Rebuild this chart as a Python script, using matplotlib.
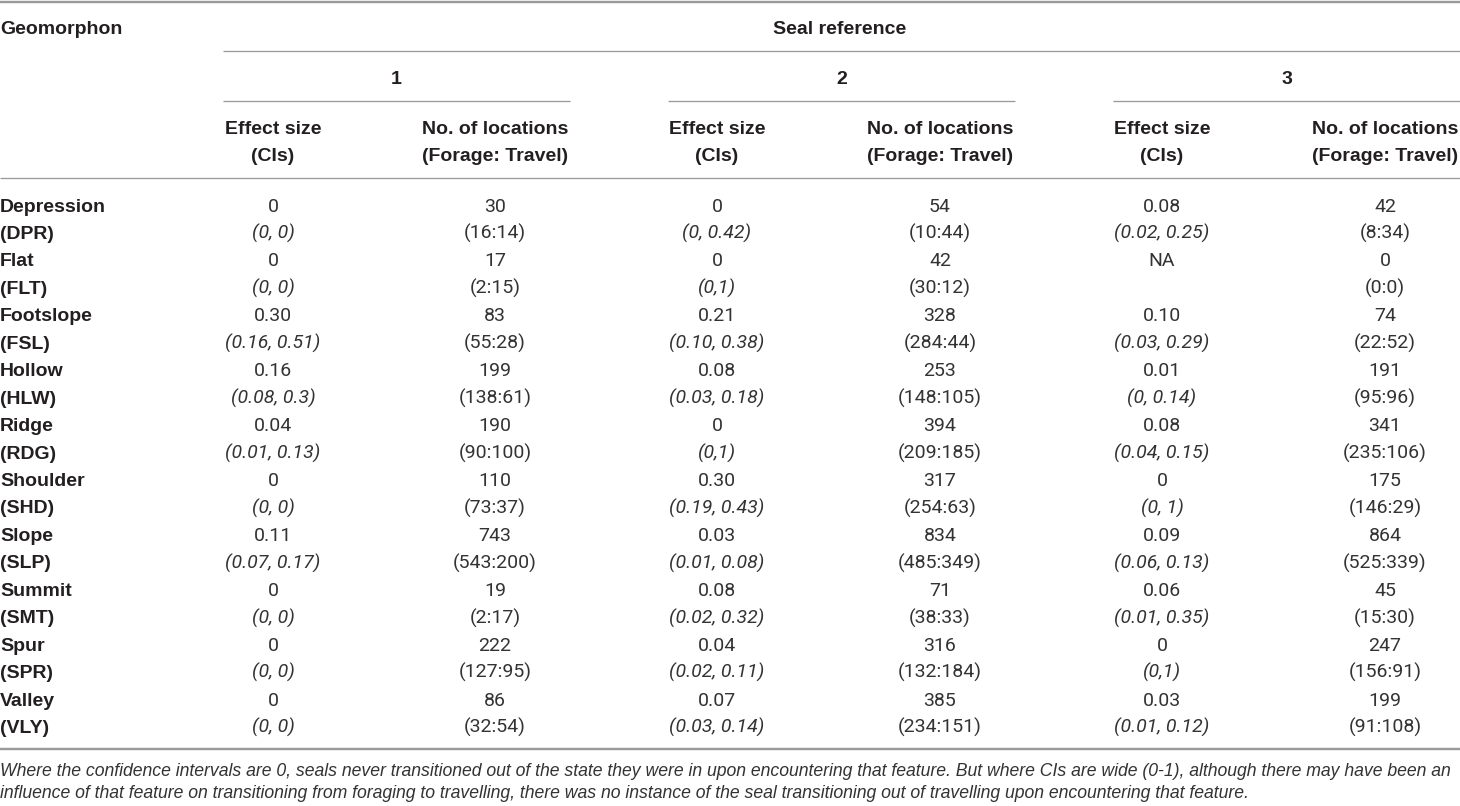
import matplotlib
matplotlib.use("Agg")
import matplotlib.pyplot as plt
from matplotlib import font_manager as fm

# ---------------- data ----------------
geomorphons = ["Depression", "Flat", "Footslope", "Hollow", "Ridge",
               "Shoulder", "Slope", "Summit", "Spur", "Valley"]
codes = ["DPR", "FLT", "FSL", "HLW", "RDG", "SHD", "SLP", "SMT", "SPR", "VLY"]
seal_ids = ["1", "2", "3"]

effect_1 = ["0", "0", "0.30", "0.16", "0.04", "0", "0.11", "0", "0", "0"]
ci_1 = ["(0, 0)", "(0, 0)", "(0.16, 0.51)", "(0.08, 0.3)", "(0.01, 0.13)",
        "(0, 0)", "(0.07, 0.17)", "(0, 0)", "(0, 0)", "(0, 0)"]
locations_1 = [30, 17, 83, 199, 190, 110, 743, 19, 222, 86]
forage_1 = [16, 2, 55, 138, 90, 73, 543, 2, 127, 32]
travel_1 = [14, 15, 28, 61, 100, 37, 200, 17, 95, 54]

effect_2 = ["0", "0", "0.21", "0.08", "0", "0.30", "0.03", "0.08", "0.04", "0.07"]
ci_2 = ["(0, 0.42)", "(0,1)", "(0.10, 0.38)", "(0.03, 0.18)", "(0,1)",
        "(0.19, 0.43)", "(0.01, 0.08)", "(0.02, 0.32)", "(0.02, 0.11)", "(0.03, 0.14)"]
locations_2 = [54, 42, 328, 253, 394, 317, 834, 71, 316, 385]
forage_2 = [10, 30, 284, 148, 209, 254, 485, 38, 132, 234]
travel_2 = [44, 12, 44, 105, 185, 63, 349, 33, 184, 151]

effect_3 = ["0.08", "NA", "0.10", "0.01", "0.08", "0", "0.09", "0.06", "0", "0.03"]
ci_3 = ["(0.02, 0.25)", "", "(0.03, 0.29)", "(0, 0.14)", "(0.04, 0.15)",
        "(0, 1)", "(0.06, 0.13)", "(0.01, 0.35)", "(0,1)", "(0.01, 0.12)"]
locations_3 = [42, 0, 74, 191, 341, 175, 864, 45, 247, 199]
forage_3 = [8, 0, 22, 95, 235, 146, 525, 15, 156, 91]
travel_3 = [34, 0, 52, 96, 106, 29, 339, 30, 91, 108]

footnote_lines = [
    "Where the confidence intervals are 0, seals never transitioned out of the state they were in upon "
    "encountering that feature. But where CIs are wide (0-1), although there may have been an",
    "influence of that feature on transitioning from foraging to travelling, there was no instance of "
    "the seal transitioning out of travelling upon encountering that feature.",
]

# ---------------- styling ----------------
TXT = "#231f20"
DATA_TXT = "#333333"
LINE = "#9a9a9a"
FS = 14
BOLD = dict(family=["Liberation Sans", "DejaVu Sans"], weight="bold")
names = {f.name for f in fm.fontManager.ttflist}
if "Roboto" in names:
    LIGHT = dict(family=["Roboto", "DejaVu Sans"], weight="normal")
else:
    LIGHT = dict(family=["Liberation Sans", "DejaVu Sans"], weight="normal")
NOTE = dict(family=["Liberation Sans", "DejaVu Sans"], weight="normal")

fig = plt.figure(figsize=(14.6, 8.06), dpi=100)
ax = fig.add_axes([0, 0, 1, 1])
ax.set_xlim(0, 1460)
ax.set_ylim(806, 0)
ax.axis("off")

def txt(x, y, s, ha="center", style=LIGHT, italic=False, size=FS, color=TXT):
    # y is the visual centre of the text (cap height middle)
    return ax.text(x, y + 0.36 * size * 100 / 72, s, ha=ha, va="baseline",
                   fontsize=size, color=color, style="italic" if italic else "normal", **style)

def hline(y, x0, x1, lw=1.3):
    ax.plot([x0, x1], [y, y], color=LINE, lw=lw * 72 / 100, solid_capstyle="butt")

# rules
hline(1.5, 0, 1460, lw=2.4)
hline(51, 223, 1460)
for x0, x1 in [(223, 570), (668, 1015), (1113, 1460)]:
    hline(101, x0, x1)
hline(178, 0, 1460)
hline(749, 0, 1460, lw=2.4)

# headers
txt(0, 27, "Geomorphon", ha="left", style=BOLD)
txt(840, 27, "Seal reference", style=BOLD)
group_centres = [396.5, 841.5, 1286.5]
for gx, sid in zip(group_centres, seal_ids):
    txt(gx, 77, sid, style=BOLD)
col_x = [273, 495, 717, 940, 1162, 1385]
for i in range(3):
    txt(col_x[2 * i], 127, "Effect size", style=BOLD)
    txt(col_x[2 * i], 154, "(CIs)", style=BOLD)
    txt(col_x[2 * i + 1], 127, "No. of locations", style=BOLD)
    txt(col_x[2 * i + 1], 154, "(Forage: Travel)", style=BOLD)

# body
effects = [effect_1, effect_2, effect_3]
cis = [ci_1, ci_2, ci_3]
locs = [locations_1, locations_2, locations_3]
forages = [forage_1, forage_2, forage_3]
travels = [travel_1, travel_2, travel_3]

y0, dy = 204.5, 27.45
for r, (name, code) in enumerate(zip(geomorphons, codes)):
    ya = y0 + 2 * r * dy
    yb = ya + dy
    txt(0, ya, name, ha="left", style=BOLD)
    txt(0, yb, f"({code})", ha="left", style=BOLD)
    for s in range(3):
        txt(col_x[2 * s], ya, effects[s][r], color=DATA_TXT)
        if cis[s][r]:
            txt(col_x[2 * s], yb, cis[s][r], italic=True, color=DATA_TXT)
        txt(col_x[2 * s + 1], ya, str(locs[s][r]), color=DATA_TXT)
        txt(col_x[2 * s + 1], yb, f"({forages[s][r]}:{travels[s][r]})", color=DATA_TXT)

# footnote, scaled so the first line spans the table width
size = 13.0
f1 = txt(0, 769, footnote_lines[0], ha="left", italic=True, size=size, style=NOTE, color="#333333")
f2 = txt(0, 791, footnote_lines[1], ha="left", italic=True, size=size, style=NOTE, color="#333333")
for _ in range(3):
    fig.canvas.draw()
    w = f1.get_window_extent().width
    size = size * 1450 / w
    for t in (f1, f2):
        t.set_fontsize(size)

fig.savefig("out.png", dpi=100, facecolor="white")
